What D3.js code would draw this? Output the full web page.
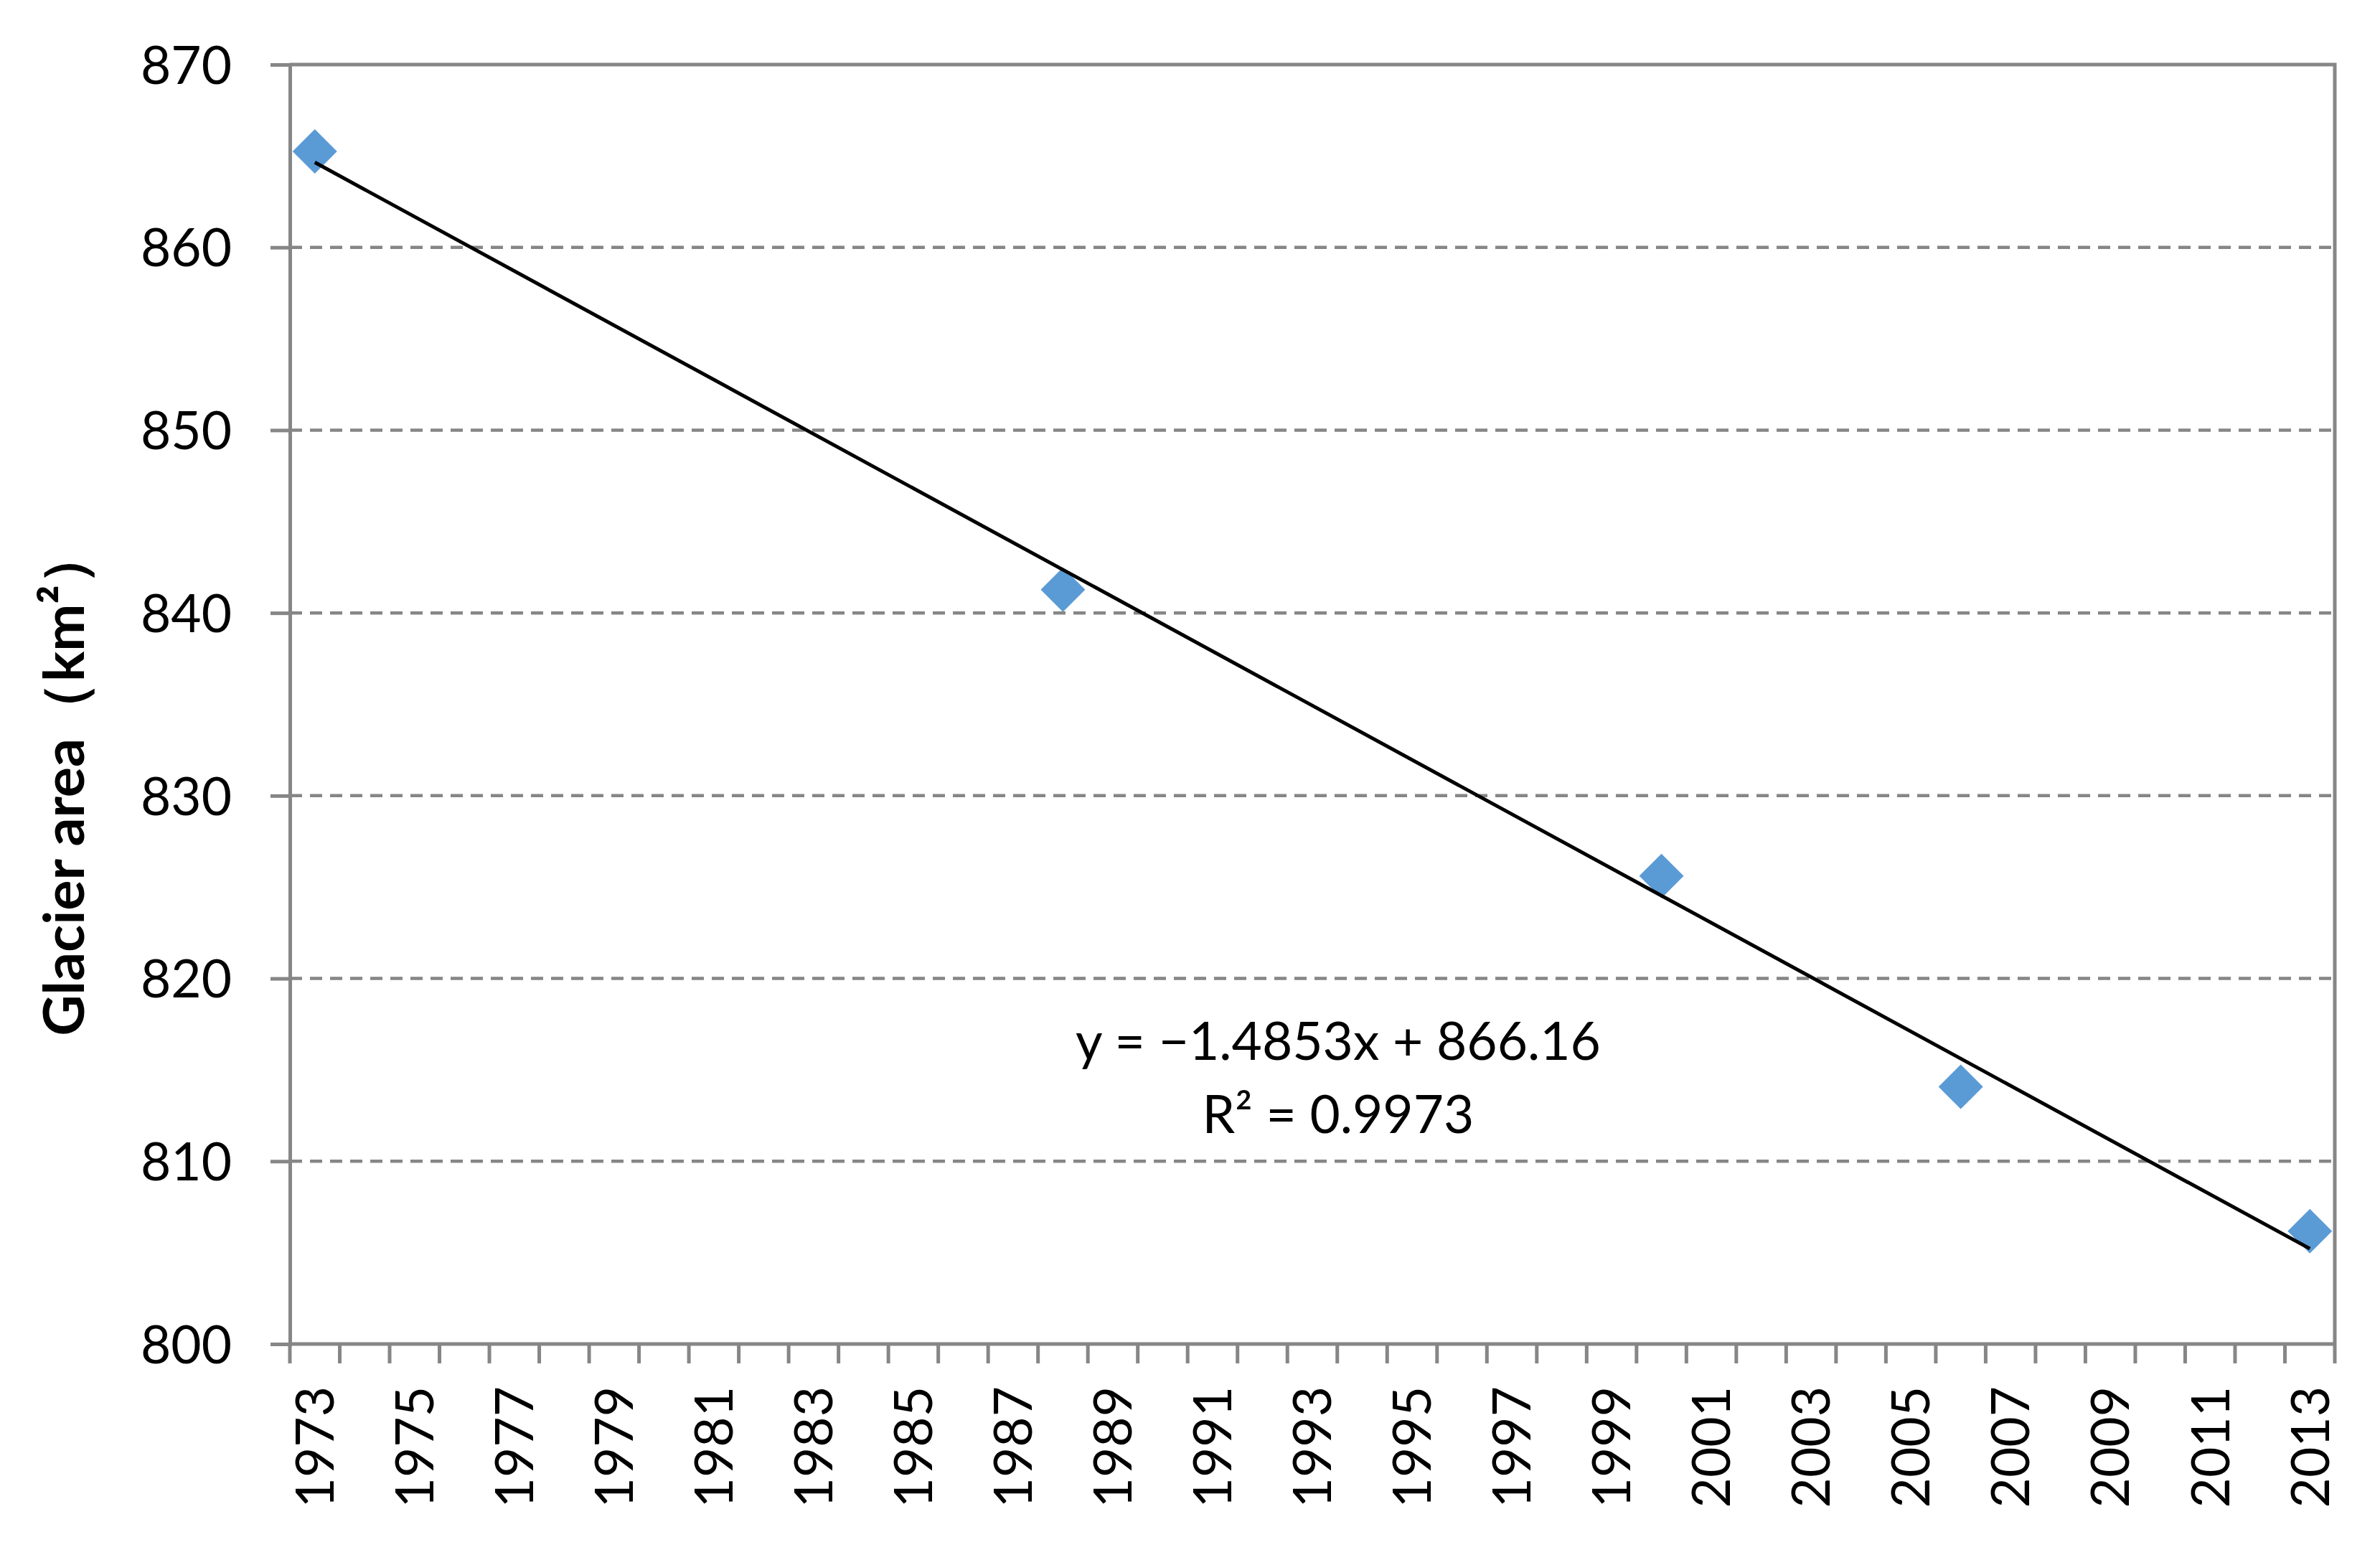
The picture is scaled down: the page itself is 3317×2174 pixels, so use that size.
<!DOCTYPE html>
<html>
<head>
<meta charset="utf-8">
<script src="https://cdn.jsdelivr.net/npm/d3@7/dist/d3.min.js"></script>
<style>
  html, body { margin: 0; padding: 0; background: #fff; }
  svg { display: block; }
</style>
</head>
<body>
<div id="chart"></div>
<script>
// data
const years = d3.range(1973, 2014);                 // category axis, one slot per year
const obsYears = [1973, 1988, 2000, 2006, 2013];
const obsArea = [865.25, 841.27, 825.61, 814.07, 806.17];
const yTicks = [800, 810, 820, 830, 840, 850, 860, 870];
const labelYears = years.filter((y) => (y - 1973) % 2 === 0);
const eqLines = ['y = \u22121.4853x + 866.16', 'R\u00b2 = 0.9973'];

const COLORS = { ink: '#000', axis: '#868686', grid: '#868686', marker: '#5b9bd5' };
const FONT = 'Lato, "Noto Sans", sans-serif';

const W = 3317, H = 2174;
const m = { left: 404, top: 90, right: 63, bottom: 301 };

const svg = d3.select('#chart').append('svg')
  .attr('width', W).attr('height', H)
  .attr('viewBox', `0 0 ${W} ${H}`)
  .style('background', '#fff');

const x = d3.scaleBand().domain(years).range([m.left, W - m.right]).padding(0);
const y = d3.scaleLinear().domain([800, 870]).range([H - m.bottom, m.top]);
const cx = (yr) => x(yr) + x.bandwidth() / 2;

// dashed gridlines
svg.append('g').selectAll('line')
  .data(yTicks.filter((t) => t > 800 && t < 870))
  .join('line')
  .attr('x1', m.left).attr('x2', W - m.right)
  .attr('y1', (d) => y(d)).attr('y2', (d) => y(d))
  .attr('stroke', COLORS.grid).attr('stroke-width', 4.5)
  .attr('stroke-dasharray', '17 11');

// y axis with outward ticks
const yAxis = svg.append('g')
  .attr('transform', `translate(${m.left},0)`)
  .call(d3.axisLeft(y).tickValues(yTicks).tickSize(27).tickPadding(54).tickFormat(d3.format('d')));
yAxis.select('.domain').attr('stroke', COLORS.axis).attr('stroke-width', 5);
yAxis.selectAll('.tick line').attr('stroke', COLORS.axis).attr('stroke-width', 5);
yAxis.selectAll('.tick text')
  .attr('font-family', FONT).attr('font-size', 73).attr('fill', COLORS.ink)
  .attr('dy', '0.36em');

// x axis: ticks at category boundaries, labels every second year
const xAxis = svg.append('g').attr('transform', `translate(0,${H - m.bottom})`);
xAxis.append('line')
  .attr('x1', m.left).attr('x2', W - m.right)
  .attr('stroke', COLORS.axis).attr('stroke-width', 5);
xAxis.selectAll('line.tk')
  .data(years.concat([null]))
  .join('line').attr('class', 'tk')
  .attr('x1', (d) => d === null ? W - m.right : x(d))
  .attr('x2', (d) => d === null ? W - m.right : x(d))
  .attr('y1', 0).attr('y2', 27)
  .attr('stroke', COLORS.axis).attr('stroke-width', 5);
xAxis.selectAll('text')
  .data(labelYears)
  .join('text')
  .attr('transform', (d) => `translate(${cx(d)},59) rotate(-90)`)
  .attr('text-anchor', 'end').attr('dy', '0.36em')
  .attr('font-family', FONT).attr('font-size', 73).attr('fill', COLORS.ink)
  .text((d) => d);

// plot-area border (top and right)
svg.append('path')
  .attr('d', `M${m.left},${m.top}H${W - m.right}V${H - m.bottom}`)
  .attr('fill', 'none').attr('stroke', COLORS.axis).attr('stroke-width', 5);

// markers
const pts = obsYears.map((yr, i) => ({ yr, v: obsArea[i] }));
const diamond = d3.symbol(d3.symbolSquare, 1922);
svg.append('g').selectAll('path')
  .data(pts)
  .join('path')
  .attr('d', diamond)
  .attr('transform', (d) => `translate(${cx(d.yr)},${y(d.v)}) rotate(45)`)
  .attr('fill', COLORS.marker);

// linear trendline, fitted on the category index (1973 = 1)
const idx = pts.map((d) => years.indexOf(d.yr) + 1);
const mx = d3.mean(idx), my = d3.mean(pts, (d) => d.v);
const slope = d3.sum(pts, (d, i) => (idx[i] - mx) * (d.v - my)) / d3.sum(idx, (k) => (k - mx) ** 2);
const icpt = my - slope * mx;
const ends = [obsYears[0], obsYears[obsYears.length - 1]];
svg.append('path')
  .datum(ends)
  .attr('d', d3.line()
    .x((yr) => cx(yr))
    .y((yr) => y(icpt + slope * (years.indexOf(yr) + 1))))
  .attr('fill', 'none').attr('stroke', COLORS.ink).attr('stroke-width', 5);

// equation label
svg.append('g').selectAll('text')
  .data(eqLines)
  .join('text')
  .attr('x', 1865).attr('y', (d, i) => 1477 + i * 102)
  .attr('text-anchor', 'middle')
  .attr('font-family', FONT).attr('font-size', 73).attr('fill', COLORS.ink)
  .text((d) => d);

// y axis title
svg.append('text')
  .attr('transform', 'translate(117,1090) rotate(-90)')
  .attr('text-anchor', 'middle')
  .attr('font-family', FONT).attr('font-size', 79).attr('font-weight', 700)
  .attr('fill', COLORS.ink)
  .text('Glacier area\uff08km\u00b2\uff09');
</script>
</body>
</html>
